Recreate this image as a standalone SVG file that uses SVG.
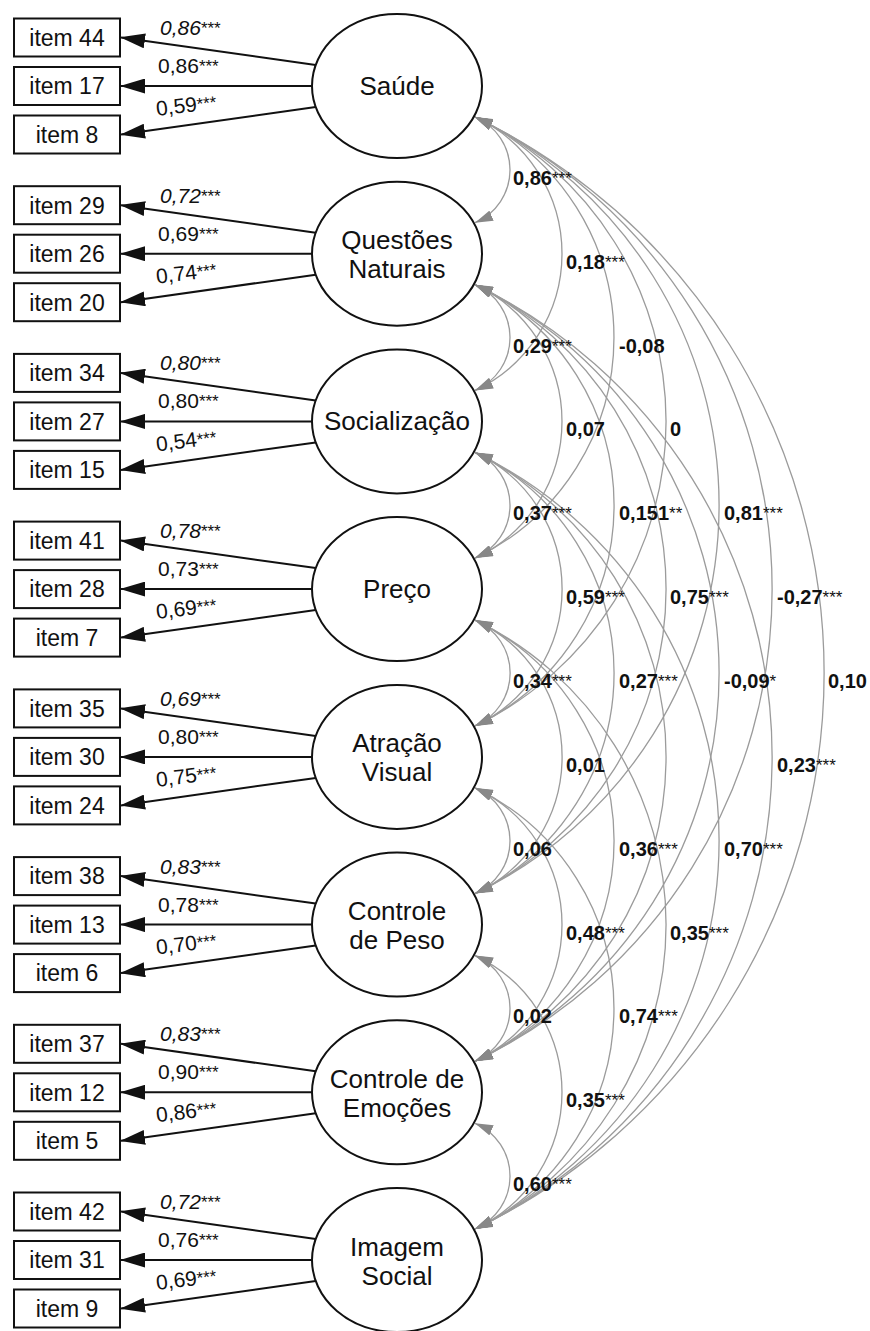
<svg xmlns="http://www.w3.org/2000/svg" width="870" height="1331" viewBox="0 0 870 1331">
<style>
text{font-family:"Liberation Sans",Arial,sans-serif;fill:#111}
.box rect{fill:#fff;stroke:#111;stroke-width:2}
.box text{font-size:23px;text-anchor:middle}
.lat ellipse{fill:#fff;stroke:#111;stroke-width:2}
.lat text{font-size:26px;text-anchor:middle}
.load{stroke:#111;stroke-width:2;fill:none;marker-end:url(#ba)}
.cor{stroke:#9b9b9b;stroke-width:1.3;fill:none;marker-start:url(#ga);marker-end:url(#ga)}
.ld{font-size:21px}
.ldi{font-size:21px;font-style:italic}
.cr{font-size:20px;font-weight:bold}
.st{font-size:17px;font-weight:normal;font-style:normal}
</style>
<defs>
<marker id="ba" viewBox="0 0 25 15" refX="24" refY="7.5" markerWidth="25" markerHeight="15" markerUnits="userSpaceOnUse" orient="auto"><path d="M0,0 L25,7.5 L0,15 z" fill="#111"/></marker>
<marker id="ga" viewBox="0 0 18 11" refX="18" refY="5.5" markerWidth="18" markerHeight="11" markerUnits="userSpaceOnUse" orient="auto-start-reverse"><path d="M0,0 L18,5.5 L0,11 z" fill="#888"/></marker>
</defs>

<g id="connectors">
<path class="cor" d="M475,117 A57.4,57.4 0 0 1 475,222.7"/>
<path class="cor" d="M475,284.7 A57.4,57.4 0 0 1 475,390.4"/>
<path class="cor" d="M475,452.4 A57.4,57.4 0 0 1 475,558.1"/>
<path class="cor" d="M475,620.1 A57.4,57.4 0 0 1 475,725.9"/>
<path class="cor" d="M475,787.9 A57.4,57.4 0 0 1 475,893.6"/>
<path class="cor" d="M475,955.6 A57.4,57.4 0 0 1 475,1061.3"/>
<path class="cor" d="M475,1123.3 A57.4,57.4 0 0 1 475,1229"/>
<path class="cor" d="M475,117 A150.9,150.9 0 0 1 475,390.4"/>
<path class="cor" d="M475,284.7 A150.9,150.9 0 0 1 475,558.1"/>
<path class="cor" d="M475,452.4 A150.9,150.9 0 0 1 475,725.9"/>
<path class="cor" d="M475,620.1 A150.9,150.9 0 0 1 475,893.6"/>
<path class="cor" d="M475,787.9 A150.9,150.9 0 0 1 475,1061.3"/>
<path class="cor" d="M475,955.6 A150.9,150.9 0 0 1 475,1229"/>
<path class="cor" d="M475,117 A244.5,244.5 0 0 1 475,558.1"/>
<path class="cor" d="M475,284.7 A244.5,244.5 0 0 1 475,725.9"/>
<path class="cor" d="M475,452.4 A244.5,244.5 0 0 1 475,893.6"/>
<path class="cor" d="M475,620.1 A244.5,244.5 0 0 1 475,1061.3"/>
<path class="cor" d="M475,787.9 A244.5,244.5 0 0 1 475,1229"/>
<path class="cor" d="M475,117 A338.1,338.1 0 0 1 475,725.9"/>
<path class="cor" d="M475,284.7 A338.1,338.1 0 0 1 475,893.6"/>
<path class="cor" d="M475,452.4 A338.1,338.1 0 0 1 475,1061.3"/>
<path class="cor" d="M475,620.1 A338.1,338.1 0 0 1 475,1229"/>
<path class="cor" d="M475,117 A430.9,430.9 0 0 1 475,893.6"/>
<path class="cor" d="M475,284.7 A430.9,430.9 0 0 1 475,1061.3"/>
<path class="cor" d="M475,452.4 A430.9,430.9 0 0 1 475,1229"/>
<path class="cor" d="M475,117 A523.7,523.7 0 0 1 475,1061.3"/>
<path class="cor" d="M475,284.7 A523.7,523.7 0 0 1 475,1229"/>
<path class="cor" d="M475,117 A617.3,617.3 0 0 1 475,1229"/>

<g class="cr">
<text x="513" y="185">0,86<tspan class="st" dy="-1">***</tspan></text>
<text x="513" y="353">0,29<tspan class="st" dy="-1">***</tspan></text>
<text x="513" y="520">0,37<tspan class="st" dy="-1">***</tspan></text>
<text x="513" y="688">0,34<tspan class="st" dy="-1">***</tspan></text>
<text x="513" y="856">0,06</text>
<text x="513" y="1023">0,02</text>
<text x="513" y="1191">0,60<tspan class="st" dy="-1">***</tspan></text>
<text x="566" y="269">0,18<tspan class="st" dy="-1">***</tspan></text>
<text x="566" y="436">0,07</text>
<text x="566" y="604">0,59<tspan class="st" dy="-1">***</tspan></text>
<text x="566" y="772">0,01</text>
<text x="566" y="940">0,48<tspan class="st" dy="-1">***</tspan></text>
<text x="566" y="1107">0,35<tspan class="st" dy="-1">***</tspan></text>
<text x="619" y="353">-0,08</text>
<text x="619" y="520">0,151<tspan class="st" dy="-1">**</tspan></text>
<text x="619" y="688">0,27<tspan class="st" dy="-1">***</tspan></text>
<text x="619" y="856">0,36<tspan class="st" dy="-1">***</tspan></text>
<text x="619" y="1023">0,74<tspan class="st" dy="-1">***</tspan></text>
<text x="670" y="436">0</text>
<text x="670" y="604">0,75<tspan class="st" dy="-1">***</tspan></text>
<text x="670" y="940">0,35<tspan class="st" dy="-1">***</tspan></text>
<text x="724" y="520">0,81<tspan class="st" dy="-1">***</tspan></text>
<text x="724" y="688">-0,09<tspan class="st" dy="-1">*</tspan></text>
<text x="724" y="856">0,70<tspan class="st" dy="-1">***</tspan></text>
<text x="777" y="604">-0,27<tspan class="st" dy="-1">***</tspan></text>
<text x="777" y="772">0,23<tspan class="st" dy="-1">***</tspan></text>
<text x="828" y="688">0,10</text>
</g>

<path class="load" d="M315.7,65 L121,37.5"/>
<path class="load" d="M312,86 L121,86"/>
<path class="load" d="M315.7,107 L121,134.5"/>
<path class="load" d="M315.7,232.7 L121,205.2"/>
<path class="load" d="M312,253.7 L121,253.7"/>
<path class="load" d="M315.7,274.7 L121,302.2"/>
<path class="load" d="M315.7,400.4 L121,372.9"/>
<path class="load" d="M312,421.4 L121,421.4"/>
<path class="load" d="M315.7,442.4 L121,469.9"/>
<path class="load" d="M315.7,568.1 L121,540.6"/>
<path class="load" d="M312,589.1 L121,589.1"/>
<path class="load" d="M315.7,610.1 L121,637.6"/>
<path class="load" d="M315.7,735.9 L121,708.4"/>
<path class="load" d="M312,756.9 L121,756.9"/>
<path class="load" d="M315.7,777.9 L121,805.4"/>
<path class="load" d="M315.7,903.6 L121,876.1"/>
<path class="load" d="M312,924.6 L121,924.6"/>
<path class="load" d="M315.7,945.6 L121,973.1"/>
<path class="load" d="M315.7,1071.3 L121,1043.8"/>
<path class="load" d="M312,1092.3 L121,1092.3"/>
<path class="load" d="M315.7,1113.3 L121,1140.8"/>
<path class="load" d="M315.7,1239 L121,1211.5"/>
<path class="load" d="M312,1260 L121,1260"/>
<path class="load" d="M315.7,1281 L121,1308.5"/>

<text class="ldi" x="160" y="35">0,86<tspan class="st" dy="-1">***</tspan></text>
<text class="ld" x="158" y="73">0,86<tspan class="st" dy="-1">***</tspan></text>
<text class="ld" x="157" y="116" transform="rotate(-7 157 116)">0,59<tspan class="st" dy="-1">***</tspan></text>
<text class="ldi" x="160" y="202.7">0,72<tspan class="st" dy="-1">***</tspan></text>
<text class="ld" x="158" y="240.7">0,69<tspan class="st" dy="-1">***</tspan></text>
<text class="ld" x="157" y="283.7" transform="rotate(-7 157 283.7)">0,74<tspan class="st" dy="-1">***</tspan></text>
<text class="ldi" x="160" y="370.4">0,80<tspan class="st" dy="-1">***</tspan></text>
<text class="ld" x="158" y="408.4">0,80<tspan class="st" dy="-1">***</tspan></text>
<text class="ld" x="157" y="451.4" transform="rotate(-7 157 451.4)">0,54<tspan class="st" dy="-1">***</tspan></text>
<text class="ldi" x="160" y="538.1">0,78<tspan class="st" dy="-1">***</tspan></text>
<text class="ld" x="158" y="576.1">0,73<tspan class="st" dy="-1">***</tspan></text>
<text class="ld" x="157" y="619.1" transform="rotate(-7 157 619.1)">0,69<tspan class="st" dy="-1">***</tspan></text>
<text class="ldi" x="160" y="705.9">0,69<tspan class="st" dy="-1">***</tspan></text>
<text class="ld" x="158" y="743.9">0,80<tspan class="st" dy="-1">***</tspan></text>
<text class="ld" x="157" y="786.9" transform="rotate(-7 157 786.9)">0,75<tspan class="st" dy="-1">***</tspan></text>
<text class="ldi" x="160" y="873.6">0,83<tspan class="st" dy="-1">***</tspan></text>
<text class="ld" x="158" y="911.6">0,78<tspan class="st" dy="-1">***</tspan></text>
<text class="ld" x="157" y="954.6" transform="rotate(-7 157 954.6)">0,70<tspan class="st" dy="-1">***</tspan></text>
<text class="ldi" x="160" y="1041.3">0,83<tspan class="st" dy="-1">***</tspan></text>
<text class="ld" x="158" y="1079.3">0,90<tspan class="st" dy="-1">***</tspan></text>
<text class="ld" x="157" y="1122.3" transform="rotate(-7 157 1122.3)">0,86<tspan class="st" dy="-1">***</tspan></text>
<text class="ldi" x="160" y="1209">0,72<tspan class="st" dy="-1">***</tspan></text>
<text class="ld" x="158" y="1247">0,76<tspan class="st" dy="-1">***</tspan></text>
<text class="ld" x="157" y="1290" transform="rotate(-7 157 1290)">0,69<tspan class="st" dy="-1">***</tspan></text>
</g>

<g id="saude" class="lat" transform="translate(397,86)"><ellipse rx="85" ry="72"/><text y="9">Saúde</text></g>
<g id="questoes-naturais" class="lat" transform="translate(397,253.7)"><ellipse rx="85" ry="72"/><text y="-4.5">Questões</text><text y="24.5">Naturais</text></g>
<g id="socializacao" class="lat" transform="translate(397,421.4)"><ellipse rx="85" ry="72"/><text y="9">Socialização</text></g>
<g id="preco" class="lat" transform="translate(397,589.1)"><ellipse rx="85" ry="72"/><text y="9">Preço</text></g>
<g id="atracao-visual" class="lat" transform="translate(397,756.9)"><ellipse rx="85" ry="72"/><text y="-4.5">Atração</text><text y="24.5">Visual</text></g>
<g id="controle-peso" class="lat" transform="translate(397,924.6)"><ellipse rx="85" ry="72"/><text y="-4.5">Controle</text><text y="24.5">de Peso</text></g>
<g id="controle-emocoes" class="lat" transform="translate(397,1092.3)"><ellipse rx="85" ry="72"/><text y="-4.5">Controle de</text><text y="24.5">Emoções</text></g>
<g id="imagem-social" class="lat" transform="translate(397,1260)"><ellipse rx="85" ry="72"/><text y="-4.5">Imagem</text><text y="24.5">Social</text></g>

<g id="item44" class="box" transform="translate(0,37.5)"><rect x="14" y="-19" width="106" height="38"/><text x="67" y="8.3">item 44</text></g>
<g id="item17" class="box" transform="translate(0,86)"><rect x="14" y="-19" width="106" height="38"/><text x="67" y="8.3">item 17</text></g>
<g id="item8" class="box" transform="translate(0,134.5)"><rect x="14" y="-19" width="106" height="38"/><text x="67" y="8.3">item 8</text></g>
<g id="item29" class="box" transform="translate(0,205.2)"><rect x="14" y="-19" width="106" height="38"/><text x="67" y="8.3">item 29</text></g>
<g id="item26" class="box" transform="translate(0,253.7)"><rect x="14" y="-19" width="106" height="38"/><text x="67" y="8.3">item 26</text></g>
<g id="item20" class="box" transform="translate(0,302.2)"><rect x="14" y="-19" width="106" height="38"/><text x="67" y="8.3">item 20</text></g>
<g id="item34" class="box" transform="translate(0,372.9)"><rect x="14" y="-19" width="106" height="38"/><text x="67" y="8.3">item 34</text></g>
<g id="item27" class="box" transform="translate(0,421.4)"><rect x="14" y="-19" width="106" height="38"/><text x="67" y="8.3">item 27</text></g>
<g id="item15" class="box" transform="translate(0,469.9)"><rect x="14" y="-19" width="106" height="38"/><text x="67" y="8.3">item 15</text></g>
<g id="item41" class="box" transform="translate(0,540.6)"><rect x="14" y="-19" width="106" height="38"/><text x="67" y="8.3">item 41</text></g>
<g id="item28" class="box" transform="translate(0,589.1)"><rect x="14" y="-19" width="106" height="38"/><text x="67" y="8.3">item 28</text></g>
<g id="item7" class="box" transform="translate(0,637.6)"><rect x="14" y="-19" width="106" height="38"/><text x="67" y="8.3">item 7</text></g>
<g id="item35" class="box" transform="translate(0,708.4)"><rect x="14" y="-19" width="106" height="38"/><text x="67" y="8.3">item 35</text></g>
<g id="item30" class="box" transform="translate(0,756.9)"><rect x="14" y="-19" width="106" height="38"/><text x="67" y="8.3">item 30</text></g>
<g id="item24" class="box" transform="translate(0,805.4)"><rect x="14" y="-19" width="106" height="38"/><text x="67" y="8.3">item 24</text></g>
<g id="item38" class="box" transform="translate(0,876.1)"><rect x="14" y="-19" width="106" height="38"/><text x="67" y="8.3">item 38</text></g>
<g id="item13" class="box" transform="translate(0,924.6)"><rect x="14" y="-19" width="106" height="38"/><text x="67" y="8.3">item 13</text></g>
<g id="item6" class="box" transform="translate(0,973.1)"><rect x="14" y="-19" width="106" height="38"/><text x="67" y="8.3">item 6</text></g>
<g id="item37" class="box" transform="translate(0,1043.8)"><rect x="14" y="-19" width="106" height="38"/><text x="67" y="8.3">item 37</text></g>
<g id="item12" class="box" transform="translate(0,1092.3)"><rect x="14" y="-19" width="106" height="38"/><text x="67" y="8.3">item 12</text></g>
<g id="item5" class="box" transform="translate(0,1140.8)"><rect x="14" y="-19" width="106" height="38"/><text x="67" y="8.3">item 5</text></g>
<g id="item42" class="box" transform="translate(0,1211.5)"><rect x="14" y="-19" width="106" height="38"/><text x="67" y="8.3">item 42</text></g>
<g id="item31" class="box" transform="translate(0,1260)"><rect x="14" y="-19" width="106" height="38"/><text x="67" y="8.3">item 31</text></g>
<g id="item9" class="box" transform="translate(0,1308.5)"><rect x="14" y="-19" width="106" height="38"/><text x="67" y="8.3">item 9</text></g>
</svg>
